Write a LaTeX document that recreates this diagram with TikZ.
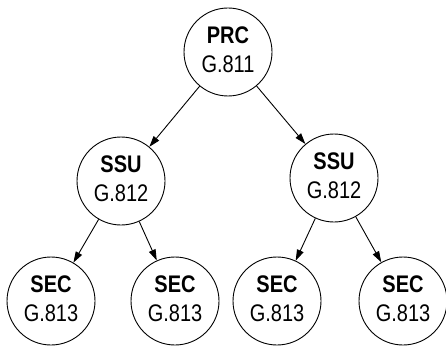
\documentclass[tikz,border=0pt]{standalone}
\usepackage{fontspec}
\setmainfont{Liberation Sans}
\usetikzlibrary{arrows.meta}
\newcommand\unitlabel[2]{\scalebox{1}[1.2]{\begin{tabular}{@{}c@{}}\textbf{#1}\\#2\end{tabular}}}
\tikzset{
  unit/.style={circle,draw=black,line width=0.9pt,minimum size=88pt,inner sep=0pt,align=center,
    font=\fontsize{20}{24}\selectfont},
  link/.style={line width=0.9pt,-{Triangle[length=11pt,width=7pt]}}
}
\begin{document}
\begin{tikzpicture}[x=1pt,y=-1pt]
\useasboundingbox (0,0) rectangle (446,350);
\node[unit] (prc) at (228,52) {\unitlabel{PRC}{G.811}};
\node[unit] (ssuL) at (121,181) {\unitlabel{SSU}{G.812}};
\node[unit] (ssuR) at (334,178) {\unitlabel{SSU}{G.812}};
\node[unit] (sec1) at (51,301) {\unitlabel{SEC}{G.813}};
\node[unit] (sec2) at (175,301) {\unitlabel{SEC}{G.813}};
\node[unit] (sec3) at (277,301) {\unitlabel{SEC}{G.813}};
\node[unit] (sec4) at (403,301) {\unitlabel{SEC}{G.813}};
\draw[link] (prc) -- (ssuL);
\draw[link] (prc) -- (ssuR);
\draw[link] (ssuL) -- (sec1);
\draw[link] (ssuL) -- (sec2);
\draw[link] (ssuR) -- (sec3);
\draw[link] (ssuR) -- (sec4);
\end{tikzpicture}
\end{document}
